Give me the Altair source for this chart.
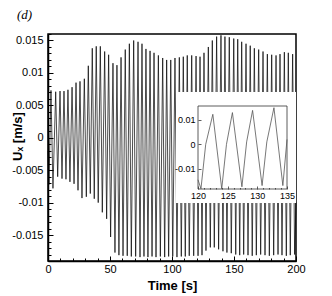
import altair as alt
import pandas as pd

# ---- main series (peaks and troughs of each oscillation) ----
start_t = [0.0, 0.8]
start_v = [-0.0020, -0.0072]

peak_t = [2.4, 6.2, 9.7, 12.9, 16.1, 19.4, 22.6, 25.8, 29.3, 32.5,
          35.7, 38.9, 42.2, 45.7, 48.9, 52.4, 55.6, 58.9, 62.3, 65.6,
          69.1, 72.6, 75.8, 79.0, 82.3, 85.5, 89.0, 92.5, 95.7, 99.0,
          102.4, 105.9, 109.1, 112.3, 115.9, 119.4, 122.6, 125.8, 129.3, 132.5,
          136.0, 139.5, 142.7, 146.2, 149.8, 153.0, 156.2, 159.7, 163.1, 166.4,
          169.9, 173.4, 176.9, 180.4, 183.9, 187.1, 190.6, 193.8, 197.3]
peak_v = [0.0073, 0.0071, 0.0072, 0.0072, 0.0074, 0.0078, 0.0085, 0.0087, 0.0091, 0.0111,
          0.0138, 0.0141, 0.0141, 0.0133, 0.0128, 0.0115, 0.0112, 0.0124, 0.0136, 0.0145,
          0.0150, 0.0148, 0.0145, 0.0137, 0.0134, 0.0131, 0.0127, 0.0123, 0.0120, 0.0120,
          0.0123, 0.0124, 0.0125, 0.0127, 0.0127, 0.0126, 0.0125, 0.0131, 0.0140, 0.0150,
          0.0156, 0.0158, 0.0156, 0.0155, 0.0153, 0.0152, 0.0148, 0.0145, 0.0142, 0.0138,
          0.0136, 0.0133, 0.0129, 0.0128, 0.0127, 0.0129, 0.0132, 0.0131, 0.0129]
trough_t = [4.0, 7.8, 11.3, 14.5, 17.7, 21.0, 24.2, 27.4, 30.9, 34.1,
            37.3, 40.5, 43.8, 47.3, 50.5, 54.0, 57.2, 60.5, 63.9, 67.2,
            70.7, 74.2, 77.4, 80.6, 83.9, 87.1, 90.6, 94.1, 97.3, 100.6,
            104.0, 107.5, 110.7, 113.9, 117.5, 121.0, 124.2, 127.4, 130.9, 134.1,
            137.6, 141.1, 144.3, 147.8, 151.4, 154.6, 157.8, 161.3, 164.7, 168.0,
            171.5, 175.0, 178.5, 182.0, 185.5, 188.7, 192.2, 195.4, 198.9]
trough_v = [-0.0078, -0.0060, -0.0063, -0.0064, -0.0068, -0.0071, -0.0081, -0.0093, -0.0091, -0.0086,
            -0.0094, -0.0100, -0.0115, -0.0125, -0.0153, -0.0177, -0.0181, -0.0182, -0.0182, -0.0183,
            -0.0183, -0.0184, -0.0183, -0.0184, -0.0183, -0.0184, -0.0183, -0.0184, -0.0183, -0.0183,
            -0.0184, -0.0183, -0.0183, -0.0182, -0.0182, -0.0182, -0.0181, -0.0174, -0.0169, -0.0169,
            -0.0172, -0.0175, -0.0177, -0.0178, -0.0180, -0.0181, -0.0180, -0.0181, -0.0182, -0.0181,
            -0.0180, -0.0181, -0.0182, -0.0181, -0.0180, -0.0181, -0.0182, -0.0181, -0.0180]
end_t = [200.0]
end_v = [-0.0100]

# ---- inset series (120-135 s) ----
inset_t = [120.0, 120.5, 121.3, 122.5, 124.0, 124.8, 125.8, 127.4, 128.2, 129.2,
           130.8, 131.6, 132.8, 134.3, 135.0]
inset_v = [-0.0145, -0.0182, 0.0000, 0.0123, -0.0182, 0.0000, 0.0130, -0.0174, 0.0010, 0.0139,
           -0.0169, 0.0010, 0.0150, -0.0169, 0.0020]

# ---- ticks ----
x_major = [0, 50, 100, 150, 200]
x_minor = list(range(0, 201, 10))
y_major = [-0.015, -0.01, -0.005, 0, 0.005, 0.01, 0.015]
y_minor = [round(i * 0.001, 3) for i in range(-19, 17)]
inset_x_labels = [120, 125, 130, 135]
inset_x_minor = list(range(120, 136))
inset_y_labels = [-0.01, 0, 0.01]
panel_label = ["(d)"]

t_all = start_t + [a for pair in zip(peak_t, trough_t) for a in pair] + end_t
v_all = start_v + [a for pair in zip(peak_v, trough_v) for a in pair] + end_v
main_df = pd.DataFrame({"t": t_all, "v": v_all})
inset_df = pd.DataFrame({"t": inset_t, "v": inset_v})

W, H = 248, 227
FONT = "Liberation Sans"

xs_main = alt.Scale(domain=[0, 200], nice=False, zero=False)
ys_main = alt.Scale(domain=[-0.019, 0.016], nice=False, zero=False)
xs_in = alt.Scale(domain=[120, 135], range=[150, 239], nice=False, zero=False)
ys_in = alt.Scale(domain=[-0.0183, 0.0157], range=[155, 72], nice=False, zero=False)

main_line = alt.Chart(main_df).mark_line(color="black", strokeWidth=0.7).encode(
    x=alt.X("t:Q", scale=xs_main, title="Time [s]", axis=alt.Axis(
        values=x_major, orient="bottom", ticks=False, tickSize=0, grid=False,
        labelFlush=False, labelPadding=2, labelFontSize=11, labelFont=FONT, labelColor="black",
        domainColor="black", domainWidth=1.5,
        titleFontSize=13, titleFontWeight="bold", titleFont=FONT, titleColor="black",
        titleY=28, titleBaseline="alphabetic", zindex=1)),
    y=alt.Y("v:Q", scale=ys_main, title="Uₓ [m/s]", axis=alt.Axis(
        values=y_major, orient="left", ticks=False, tickSize=0, grid=False,
        labelExpr="toString(datum.value)", labelPadding=5, labelFontSize=11, labelFont=FONT,
        labelColor="black", domainColor="black", domainWidth=1.5,
        titleFontSize=13, titleFontWeight="bold", titleFont=FONT, titleColor="black",
        titleX=-31, titleY=102, titleAngle=270, titleAlign="center", titleBaseline="middle",
        zindex=1)),
)

main_ticks = alt.Chart(main_df).mark_line(opacity=0).encode(
    x=alt.X("t:Q", scale=xs_main, title=None, axis=alt.Axis(
        values=x_minor, orient="top", offset=-H, labels=False, domain=False, grid=False,
        tickColor="black", tickWidth=1,
        tickSize={"condition": {"test": "datum.value % 50 === 0", "value": 5}, "value": 3})),
    y=alt.Y("v:Q", scale=ys_main, title=None, axis=alt.Axis(
        values=y_minor, orient="right", offset=-W, labels=False, domain=False, grid=False,
        tickColor="black", tickWidth=1,
        tickSize={"condition": {"test": "abs(round(datum.value * 1000)) % 5 === 0", "value": 5}, "value": 3})),
)

box_df = pd.DataFrame({"k": [0]})
white_box = alt.Chart(box_df).mark_rect(fill="white").encode(
    x=alt.value(128), x2=alt.value(248), y=alt.value(58), y2=alt.value(169))
inset_frame = alt.Chart(box_df).mark_rect(fillOpacity=0, stroke="#333333", strokeWidth=0.8).encode(
    x=alt.value(150), x2=alt.value(239), y=alt.value(72), y2=alt.value(155))

label_df = pd.DataFrame({"lab": panel_label})
panel = alt.Chart(label_df).mark_text(
    font="Liberation Serif", fontStyle="italic", fontSize=13, align="left",
    baseline="alphabetic", color="black").encode(
    text="lab:N", x=alt.value(-31), y=alt.value(-15))

inset_line = alt.Chart(inset_df).mark_line(color="#555555", strokeWidth=0.8).encode(
    x=alt.X("t:Q", scale=xs_in, title=None, axis=alt.Axis(
        values=inset_x_labels, orient="bottom", offset=-(H - 155), ticks=False, tickSize=0,
        domain=False, grid=False, labelFlush=False, labelPadding=2, labelFontSize=9,
        labelFont=FONT, labelColor="black", zindex=1)),
    y=alt.Y("v:Q", scale=ys_in, title=None, axis=alt.Axis(
        values=inset_y_labels, orient="left", offset=-150, ticks=False, tickSize=0,
        domain=False, grid=False, labelExpr="toString(datum.value)", labelPadding=3,
        labelFontSize=9, labelFont=FONT, labelColor="black", zindex=1)),
)

inset_ticks = alt.Chart(inset_df).mark_line(opacity=0).encode(
    x=alt.X("t:Q", scale=xs_in, title=None, axis=alt.Axis(
        values=inset_x_minor, orient="top", offset=-155, labels=False, domain=False, grid=False,
        tickColor="#333333", tickWidth=0.8, zindex=1,
        tickSize={"condition": {"test": "datum.value % 5 === 0", "value": 3}, "value": 1.5})),
    y=alt.Y("v:Q", scale=ys_in, title=None, axis=alt.Axis(
        values=inset_y_labels, orient="right", offset=-(W - 150), labels=False, domain=False,
        grid=False, tickColor="#333333", tickWidth=0.8, tickSize=3, zindex=1)),
)

chart = alt.layer(
    main_line, main_ticks, white_box, inset_frame, inset_line, inset_ticks, panel
).resolve_scale(
    x="independent", y="independent"
).resolve_axis(
    x="independent", y="independent"
).properties(
    width=W, height=H, autosize="none",
    padding={"left": 40, "top": 26, "right": 20, "bottom": 34},
).configure_view(stroke="black", strokeWidth=1.5)

chart.save("out.html", embed_options={"renderer": "svg", "actions": False})
